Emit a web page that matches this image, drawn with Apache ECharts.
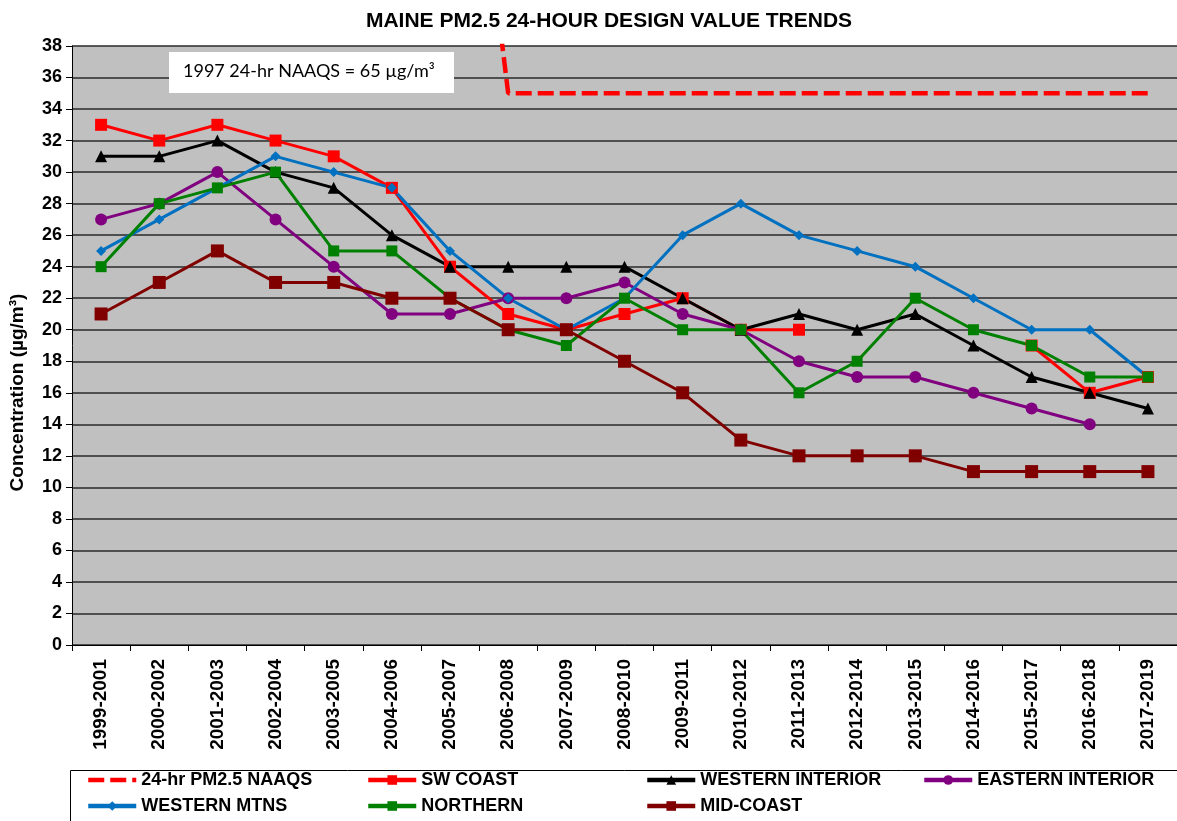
<!DOCTYPE html>
<html>
<head>
<meta charset="utf-8">
<script src="https://cdn.jsdelivr.net/npm/echarts@6/dist/echarts.min.js"></script>
<style>
  html, body { margin: 0; padding: 0; background: #fff; }
  #lineChart { width: 1177px; height: 821px; }
</style>
</head>
<body>
<div id="lineChart"></div>
<script>
// design value periods
const periods = ['1999-2001', '2000-2002', '2001-2003', '2002-2004', '2003-2005', '2004-2006',
  '2005-2007', '2006-2008', '2007-2009', '2008-2010', '2009-2011', '2010-2012', '2011-2013',
  '2012-2014', '2013-2015', '2014-2016', '2015-2017', '2016-2018', '2017-2019'];

// 24-hr standard: 65 before 2006, 35 after (65 falls off the top of the axis)
const naaqs = [null, null, null, null, null, null, 65, 35, 35, 35, 35, 35, 35, 35, 35, 35, 35, 35, 35];
const swCoast = [33, 32, 33, 32, 31, 29, 24, 21, 20, 21, 22, 20, 20, null, null, null, 19, 16, 17];
const westernInterior = [31, 31, 32, 30, 29, 26, 24, 24, 24, 24, 22, 20, 21, 20, 21, 19, 17, 16, 15];
const easternInterior = [27, 28, 30, 27, 24, 21, 21, 22, 22, 23, 21, 20, 18, 17, 17, 16, 15, 14, null];
const westernMtns = [25, 27, 29, 31, 30, 29, 25, 22, 20, 22, 26, 28, 26, 25, 24, 22, 20, 20, 17];
const northern = [24, 28, 29, 30, 25, 25, 22, 20, 19, 22, 20, 20, 16, 18, 22, 20, 19, 17, 17];
const midCoast = [21, 23, 25, 23, 23, 22, 22, 20, 20, 18, 16, 13, 12, 12, 12, 11, 11, 11, 11];

const arial = '"Liberation Sans", Arial, sans-serif';

let lineChart;

function region(name, data, color, symbol, size) {
  return {
    name: name,
    type: 'line',
    data: data,
    symbol: symbol,
    symbolSize: size,
    itemStyle: { color: color },
    lineStyle: { color: color, width: 3 },
    connectNulls: false
  };
}

function legendAt(name, left, top, hideSymbol) {
  return {
    data: [hideSymbol ? { name: name, itemStyle: { opacity: 0 } } : name],
    left: left,
    top: top,
    itemWidth: 48,
    itemHeight: 12,
    itemGap: 6,
    padding: 0,
    lineStyle: { width: 4.5 },
    textStyle: { fontFamily: arial, fontWeight: 'bold', fontSize: 18, color: '#000' }
  };
}

function initLineChart() {
  const option = {
    animation: false,
    backgroundColor: '#fff',
    title: {
      text: 'MAINE PM2.5 24-HOUR DESIGN VALUE TRENDS',
      left: 604,
      top: 6,
      textAlign: 'center',
      textStyle: { fontFamily: arial, fontWeight: 'bold', fontSize: 21, color: '#000' }
    },
    legend: [
      legendAt('24-hr PM2.5 NAAQS', 86, 771, true),
      legendAt('SW COAST', 366, 771),
      legendAt('WESTERN INTERIOR', 645, 771),
      legendAt('EASTERN INTERIOR', 922, 771),
      legendAt('WESTERN MTNS', 86, 797),
      legendAt('NORTHERN', 366, 797),
      legendAt('MID-COAST', 645, 797)
    ],
    grid: {
      left: 71,
      top: 46,
      width: 1113,
      height: 599,
      show: true,
      backgroundColor: '#c0c0c0',
      borderWidth: 0
    },
    xAxis: {
      type: 'category',
      data: periods,
      boundaryGap: true,
      axisLine: { lineStyle: { color: '#000', width: 1 } },
      axisTick: { show: true, length: 6, lineStyle: { color: '#000' } },
      axisLabel: {
        rotate: 90,
        margin: 14,
        interval: 0,
        fontFamily: arial,
        fontWeight: 'bold',
        fontSize: 19,
        color: '#000'
      }
    },
    yAxis: {
      type: 'value',
      min: 0,
      max: 38,
      interval: 2,
      name: 'Concentration (µg/m³)',
      nameLocation: 'middle',
      nameGap: 45,
      nameTextStyle: {
        fontFamily: arial,
        fontWeight: 'bold',
        fontSize: 19,
        color: '#000',
        padding: [0, 94, 0, 0]
      },
      axisLine: { show: true, lineStyle: { color: '#000', width: 1 } },
      axisTick: { show: true, length: 6, lineStyle: { color: '#000' } },
      axisLabel: { margin: 10, fontFamily: arial, fontWeight: 'bold', fontSize: 18, color: '#000' },
      splitLine: { lineStyle: { color: '#2a2a2a', width: 1.5 } }
    },
    graphic: [
      {
        type: 'rect',
        left: 68,
        top: 768,
        shape: { width: 1130, height: 70 },
        style: { fill: 'none', stroke: '#000', lineWidth: 1 },
        z: 0
      },
      {
        type: 'rect',
        left: 169,
        top: 52,
        shape: { width: 285, height: 41 },
        style: { fill: '#fff', stroke: 'none' },
        z: 10
      },
      {
        type: 'text',
        left: 183,
        top: 62,
        style: {
          text: '1997 24-hr NAAQS = 65 µg/m³',
          font: '18px Lato, "Open Sans", sans-serif',
          fill: '#000'
        },
        z: 11
      }
    ],
    series: [
      {
        name: '24-hr PM2.5 NAAQS',
        type: 'line',
        data: naaqs,
        symbol: 'none',
        clip: true,
        itemStyle: { color: '#ff0000' },
        lineStyle: { color: '#ff0000', width: 4.5, type: [16, 6] }
      },
      region('SW COAST', swCoast, '#ff0000', 'rect', 12),
      region('WESTERN INTERIOR', westernInterior, '#000000', 'triangle', 12),
      region('EASTERN INTERIOR', easternInterior, '#800080', 'circle', 12),
      region('WESTERN MTNS', westernMtns, '#0070c0', 'diamond', 10),
      region('NORTHERN', northern, '#008000', 'rect', 11),
      region('MID-COAST', midCoast, '#800000', 'rect', 13)
    ]
  };
  lineChart.setOption(option);
}

lineChart = echarts.init(document.getElementById('lineChart'));
initLineChart();
</script>
</body>
</html>
